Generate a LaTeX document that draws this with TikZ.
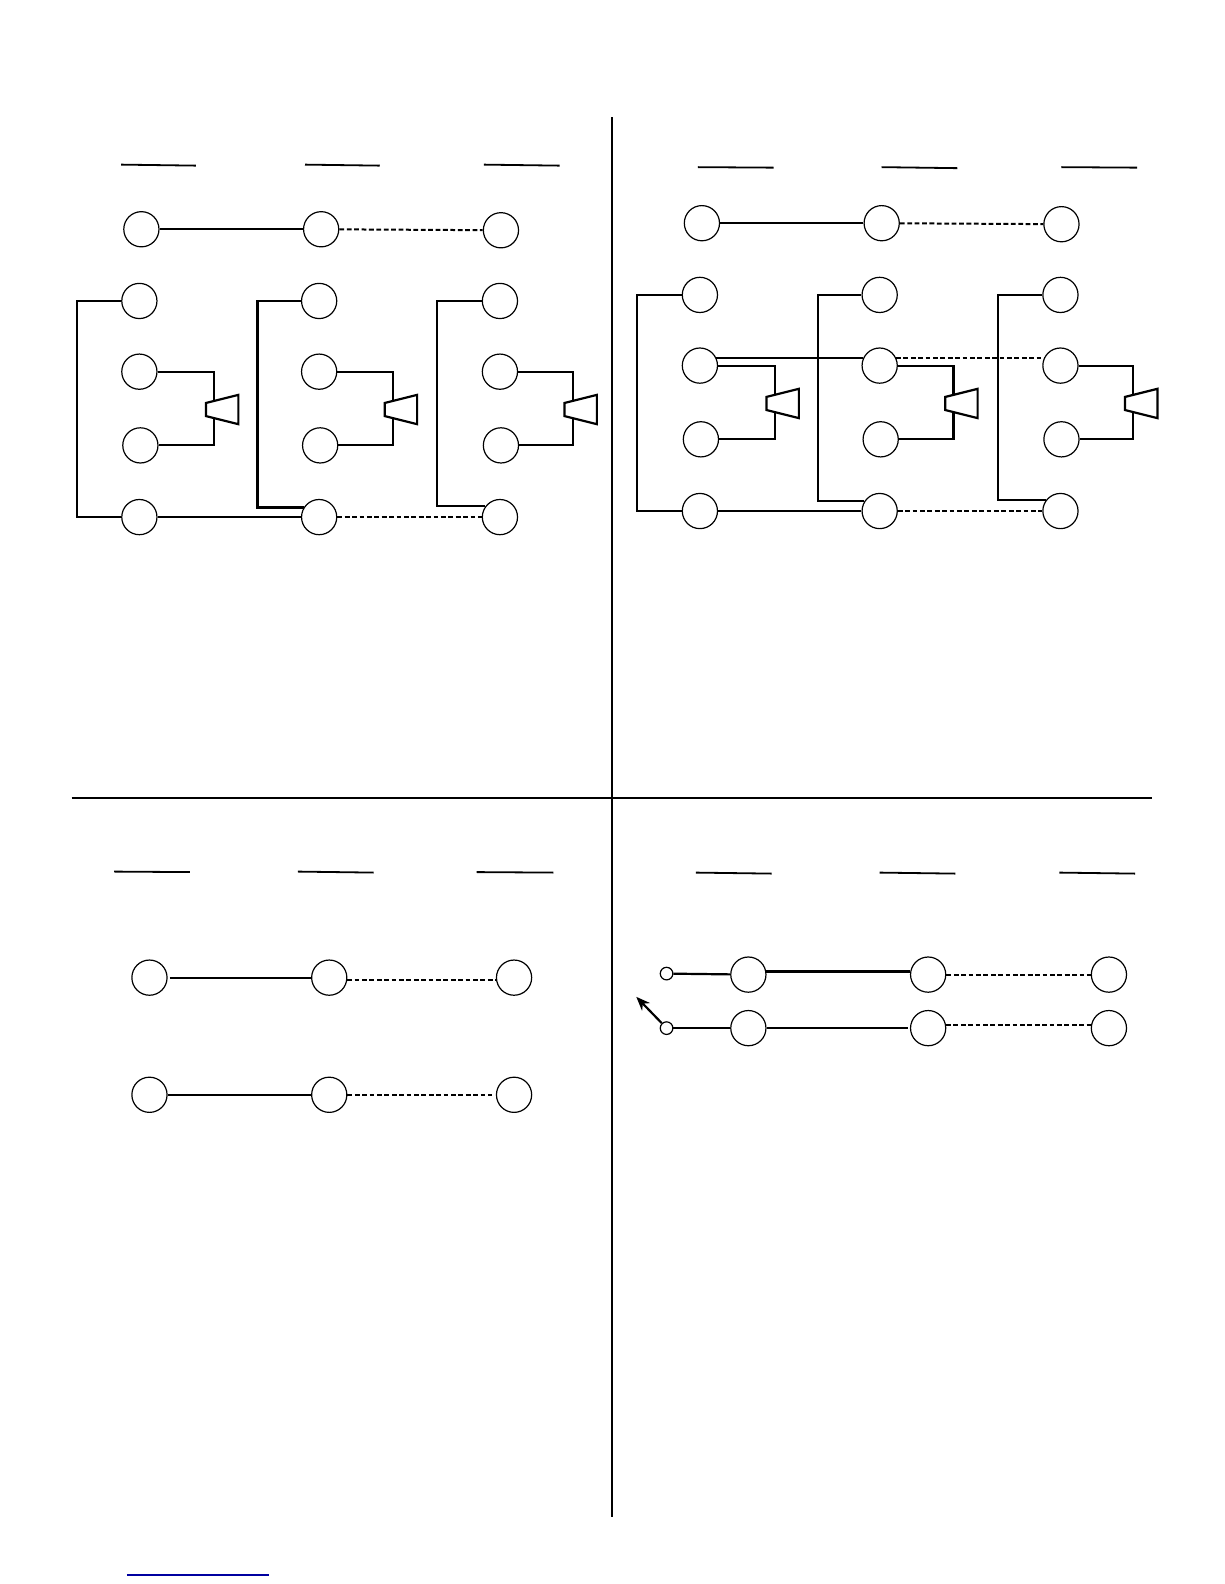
\documentclass[tikz,border=0pt]{standalone}
\usetikzlibrary{arrows.meta}
\tikzset{
  x=0.505pt,y=-0.505pt,
  big/.style={circle,draw=black,line width=0.6pt,minimum size=17.6pt,inner sep=0pt,fill=white},
  small/.style={circle,draw=black,line width=0.6pt,minimum size=6.3pt,inner sep=0pt,fill=white},
  wire/.style={line width=1.1pt,black},
  dashwire/.style={line width=1pt,black,dash pattern=on 2.4pt off 1.3pt},
  rule/.style={line width=0.9pt,black},
  frame/.style={line width=1.1pt,black},
  speaker/.style={line width=1.1pt,black,line join=miter,fill=white},
}
% one relay panel: prefix
\newcommand{\relaypanel}[1]{%
  \node[big] (#1t1) at (140,227) {};
  \node[big] (#1t2) at (318,227) {};
  \node[big] (#1t3) at (496,228) {};
  \foreach \c/\x in {1/138,2/316,3/495}{
    \node[big] (#1a\c) at (\x,298) {};
    \node[big] (#1b\c) at (\x,368) {};
    \node[big] (#1c\c) at (\x+1,441) {};
    \node[big] (#1d\c) at (\x,512) {};
  }
  \draw[wire] (#1t1) -- (#1t2);
  \draw[dashwire] (#1t2) -- (#1t3);
  \draw[wire] (#1d1) -- (#1d2);
  \draw[dashwire] (#1d2) -- (#1d3);
  % bus bars
  \coordinate (#1x1) at (76,0);
  \coordinate (#1x2) at (255,0);
  \coordinate (#1x3) at (433,0);
  \draw[wire] (#1a1.west) -- (#1x1 |- #1a1.west) -- (#1x1 |- #1d1.west) -- (#1d1.west);
  \draw[wire] (#1a2.west) -- (#1x2 |- #1a2.west) -- (#1x2 |- #1d2.148) -- (#1d2.148);
  \draw[wire] (#1a3.west) -- (#1x3 |- #1a3.west) -- (#1x3 |- #1d3.143) -- (#1d3.143);
  % speakers
  \foreach \c/\w in {1/212,2/389,3/567}{
    \draw[wire] (#1b\c.east) -- (\w,368) -- (\w,441) -- (#1c\c.east);
    \draw[speaker] (\w-8,399) -- (\w+24,391) -- (\w+24,420) -- (\w-8,412) -- cycle;
  }
}
\begin{document}
\begin{tikzpicture}
\useasboundingbox (0,0) rectangle (1212,1568.4);
% frame
\coordinate (vt) at (606,116);
\coordinate (vb) at (606,1502);
\coordinate (hl) at (71,790);
\coordinate (hr) at (1141,790);
\draw[frame] (vt) -- (vb);
\draw[frame] (hl) -- (hr);
% header rules
\foreach \a/\b/\c/\d in {120/163/194/164,302/163/376/164,479/163/554/164,
  691/165.5/766/166,873/165.5/948/166.5,1051/165.5/1126/166,
  113/863/188/863.5,295/863/370/864,472/863.5/548/864,
  689/864/764/865,871/864/946/865,1049/864/1124/865}{
  \draw[rule] (\a,\b) -- (\c,\d);
}
% panel 1
\relaypanel{p}
% panel 2
\begin{scope}[shift={(555,-6)}]
\relaypanel{q}
\draw[wire] (qb1.26) -- (qb2.154);
\draw[dashwire] (qb2.26) -- (qb3.154);
\end{scope}
% panel 3
\node[big] (r1) at (148,968) {};
\node[big] (r2) at (326,968) {};
\node[big] (r3) at (509,968) {};
\node[big] (r4) at (148,1084) {};
\node[big] (r5) at (326,1084) {};
\node[big] (r6) at (509,1084) {};
\draw[wire,shorten <=1pt] (r1.east) -- (r2.west);
\draw[dashwire] (r2.-8) -- (r3.188);
\draw[wire] (r4.east) -- (r5.west);
\draw[dashwire,shorten >=2pt] (r5.east) -- (r6.west);
% panel 4
\node[small] (s1) at (660,964) {};
\node[small] (s2) at (660,1018) {};
\node[big] (u1) at (741,965) {};
\node[big] (u2) at (919,965) {};
\node[big] (u3) at (1098,965) {};
\node[big] (v1) at (741,1018) {};
\node[big] (v2) at (919,1018) {};
\node[big] (v3) at (1098,1018) {};
\coordinate (tip) at (630,987);
\draw[wire] (s1) -- (u1);
\draw[wire] (s2) -- (v1);
\draw[wire] (u1.10) -- (u2.170);
\draw[dashwire] (u2) -- (u3);
\draw[wire,shorten >=1pt] (v1) -- (v2);
\draw[dashwire] (v2.10) -- (v3.170);
\draw[wire,-{Stealth[length=7pt,width=5.5pt]}] (s2) -- (tip);
% foot rule
\coordinate (fl) at (125.7,1559.5);
\coordinate (fr) at (266.5,1559.5);
\draw[line width=0.7pt,color={rgb,255:red,0;green,0;blue,160}] (fl) -- (fr);
\end{tikzpicture}
\end{document}
